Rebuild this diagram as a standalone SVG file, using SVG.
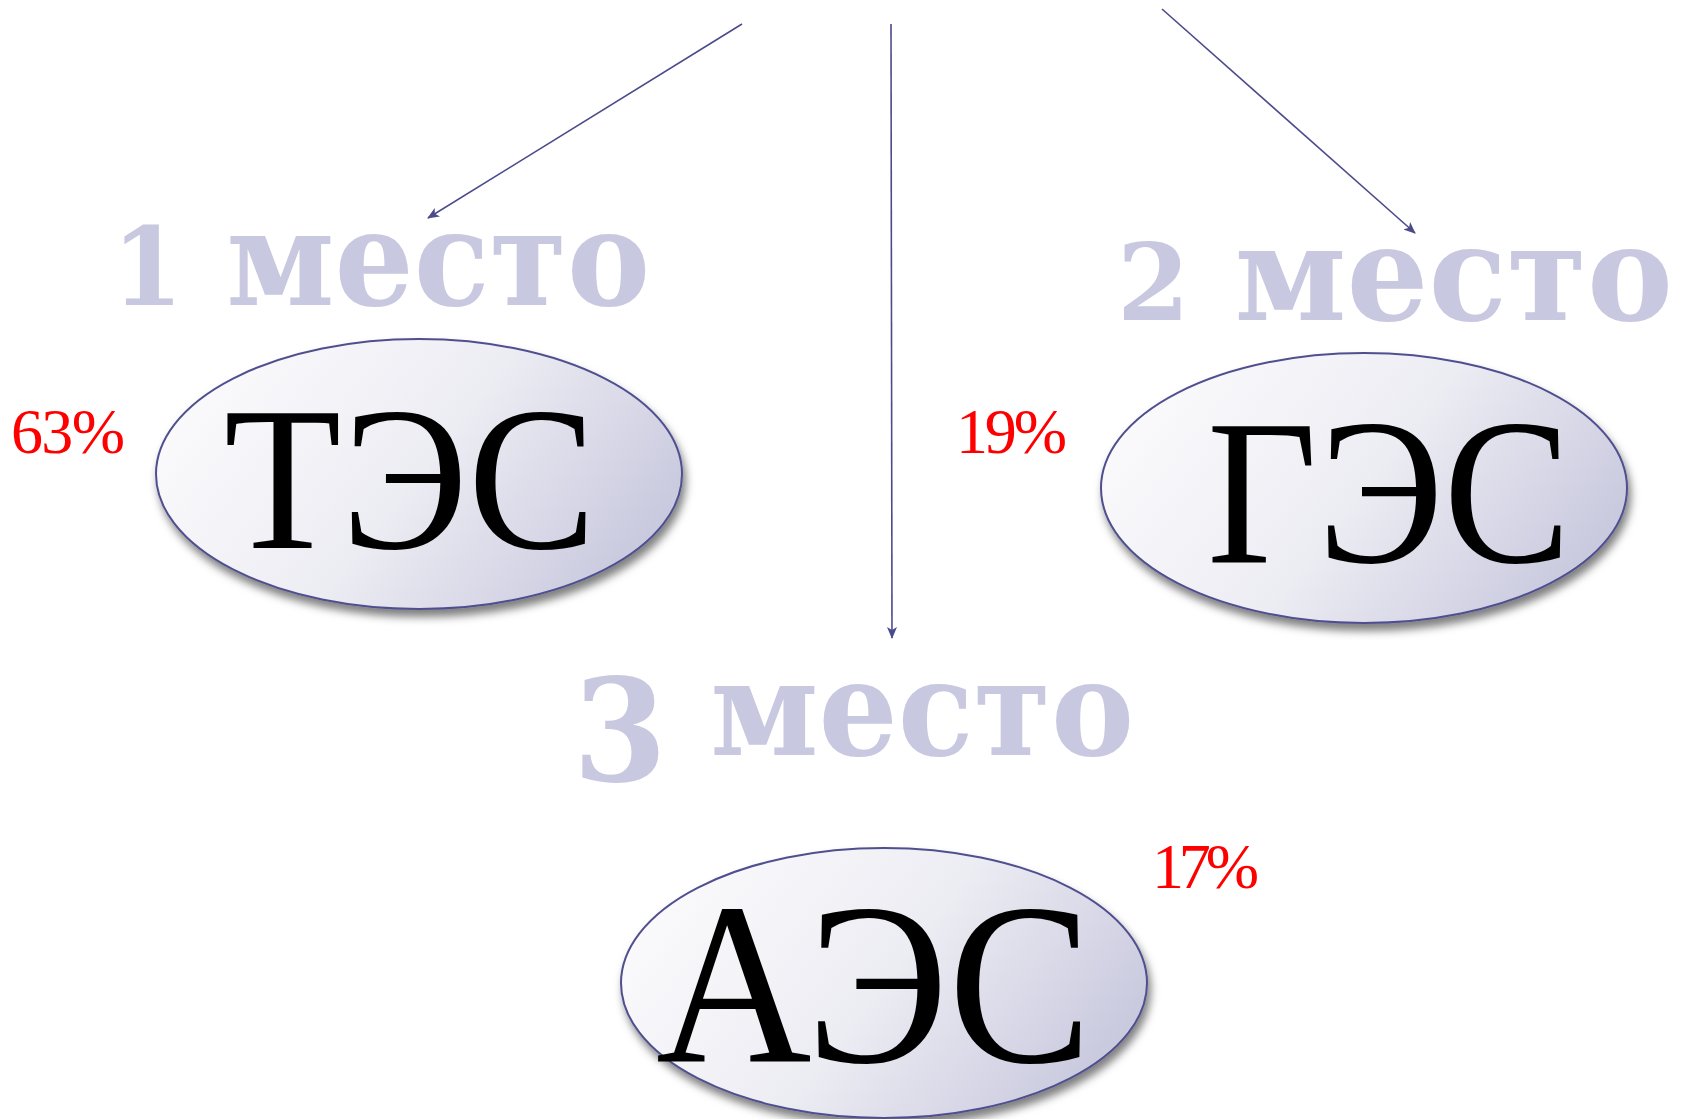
<svg xmlns="http://www.w3.org/2000/svg" width="1691" height="1119" viewBox="0 0 1691 1119">
  <defs>
    <linearGradient id="fillGrad" x1="0" y1="0.3" x2="1" y2="0.7">
      <stop offset="0" stop-color="#fbfbfd"/>
      <stop offset="0.5" stop-color="#ececf3"/>
      <stop offset="1" stop-color="#c6c6dd"/>
    </linearGradient>
    <filter id="shadow" x="-10%" y="-10%" width="125%" height="130%">
      <feDropShadow dx="3" dy="7" stdDeviation="4" flood-color="#000" flood-opacity="0.5"/>
    </filter>
    <marker id="arrow" viewBox="0 0 12 10" refX="11" refY="5" markerWidth="12" markerHeight="10" markerUnits="userSpaceOnUse" orient="auto">
      <path d="M0,0 L12,5 L0,10 L3,5 Z" fill="#4b4b8c"/>
    </marker>
    <style>
      .node ellipse { fill: url(#fillGrad); stroke: #50508f; stroke-width: 2; filter: url(#shadow); }
      .abbr { font-family: "Liberation Serif", "Times New Roman", serif; fill: #000; text-anchor: middle; }
      .place { font-family: "DejaVu Serif", Georgia, serif; font-weight: bold; fill: #c8c8e0; }
      .pct { font-family: "Liberation Serif", "Times New Roman", serif; fill: #ff0000; font-size: 64px; }
      .conn line { stroke: #4b4b8c; stroke-width: 1.6; marker-end: url(#arrow); }
    </style>
  </defs>
  <rect width="1691" height="1119" fill="#ffffff"/>

  <g id="connectors" class="conn">
    <line x1="742" y1="24" x2="428" y2="218"/>
    <line x1="891" y1="24" x2="892" y2="638"/>
    <line x1="1162" y1="9" x2="1415" y2="233"/>
  </g>

  <g id="label-1">
    <text class="place" x="112" y="305" font-size="132" textLength="538" lengthAdjust="spacingAndGlyphs"><tspan font-size="108">1</tspan> место</text>
  </g>
  <g id="label-2">
    <text class="place" x="1117" y="320" font-size="132" textLength="556" lengthAdjust="spacingAndGlyphs"><tspan font-size="107">2</tspan> место</text>
  </g>
  <g id="label-3">
    <text class="place" x="573" y="755" font-size="132" textLength="561" lengthAdjust="spacingAndGlyphs"><tspan font-size="143" dy="26">3</tspan><tspan dy="-26"> место</tspan></text>
  </g>

  <g id="node-tes" class="node">
    <ellipse cx="419" cy="474" rx="263" ry="135"/>
    <text class="abbr" x="410" y="548" font-size="206" textLength="372" lengthAdjust="spacingAndGlyphs">ТЭС</text>
  </g>
  <g id="node-ges" class="node">
    <ellipse cx="1364" cy="488" rx="263" ry="135"/>
    <text class="abbr" x="1389" y="562" font-size="207" textLength="364" lengthAdjust="spacingAndGlyphs">ГЭС</text>
  </g>
  <g id="node-aes" class="node">
    <ellipse cx="884" cy="983" rx="263" ry="135"/>
    <text class="abbr" x="874" y="1062" font-size="230" textLength="436" lengthAdjust="spacingAndGlyphs">АЭС</text>
  </g>

  <g id="pct-tes"><text class="pct" x="11" y="453" textLength="114">63%</text></g>
  <g id="pct-ges"><text class="pct" x="956" y="453" textLength="111">19%</text></g>
  <g id="pct-aes"><text class="pct" x="1152" y="888" textLength="107">17%</text></g>
</svg>
